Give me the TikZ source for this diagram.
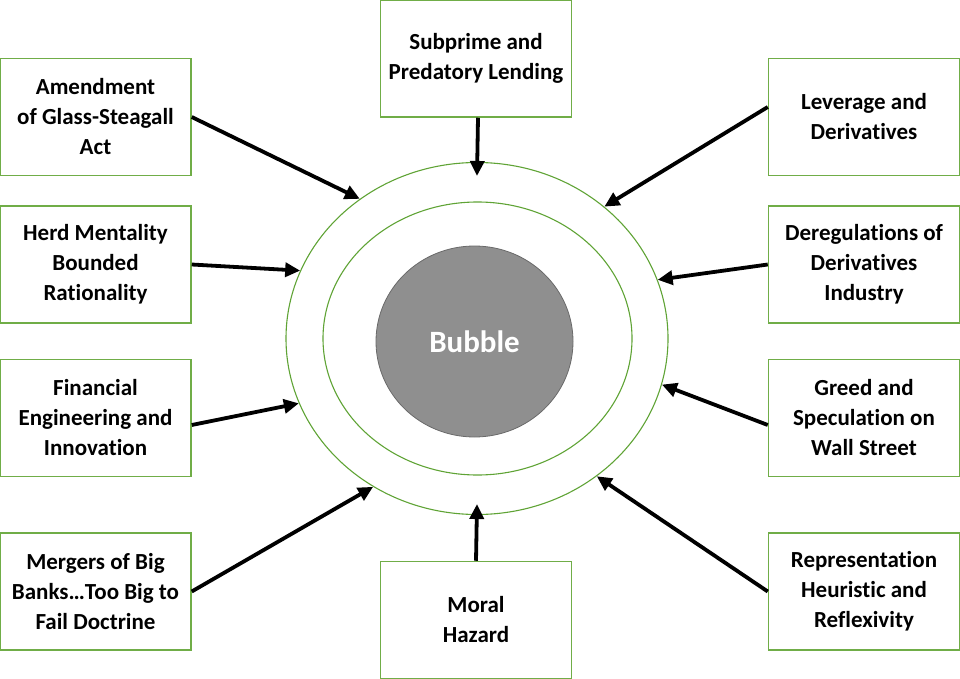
\documentclass[tikz,border=0pt]{standalone}
\usepackage{fontspec}
\setmainfont[Ligatures=NoCommon]{Carlito}
\usetikzlibrary{shapes.geometric,arrows.meta}
\definecolor{boxgreen}{HTML}{70AD47}
\definecolor{ringgreen}{HTML}{5FA335}
\definecolor{bubblegrey}{HTML}{8F8F8F}
\definecolor{bubbleedge}{HTML}{6A6A6A}

\begin{document}
\begin{tikzpicture}[x=1pt,y=-1pt,
    cause/.style={draw=boxgreen, line width=1.5pt, minimum width=191pt, minimum height=117pt,
        inner sep=0pt, align=center, font=\fontsize{23}{30}\selectfont\bfseries},
    ring/.style={ellipse, draw=ringgreen, line width=1.1pt, inner sep=0pt},
    push/.style={-{Triangle[length=15pt,width=14pt]}, line width=3.8pt}]
    \useasboundingbox (0,0) rectangle (960,679);

    \node[ring, minimum width=382pt, minimum height=352pt] (outer) at (477,338.5) {};
    \node[ring, minimum width=309pt, minimum height=273pt] (inner) at (477.5,338.5) {};
    \node[ellipse, fill=bubblegrey, draw=bubbleedge, line width=0.8pt, inner sep=0pt,
        minimum width=197pt, minimum height=191pt, text=white,
        font=\fontsize{31}{36}\selectfont\bfseries] (bubble) at (474.5,341.5) {Bubble};

    \node[cause] (amend) at (95.5,117) {Amendment\\of Glass-Steagall\\Act};
    \node[cause] (herd) at (95.5,264.5) {Herd Mentality\\Bounded\\Rationality};
    \node[cause] (fin) at (95.5,418) {Financial\\Engineering and\\Innovation};
    \node[cause] (merge) at (95.5,591.5) {Mergers of Big\\Banks…Too Big to\\Fail Doctrine};
    \node[cause] (sub) at (476,58.5) {Subprime and\\Predatory Lending};
    \node[cause] (moral) at (476,620) {Moral\\Hazard};
    \node[cause] (lev) at (864,117) {Leverage and\\Derivatives};
    \node[cause] (dereg) at (864,264.5) {Deregulations of\\Derivatives\\Industry};
    \node[cause] (greed) at (864,418) {Greed and\\Speculation on\\Wall Street};
    \node[cause] (repr) at (864,591.5) {Representation\\Heuristic and\\Reflexivity};

    \draw[push] (amend.east) -- (outer.130.5);
    \draw[push] (herd.east) -- (outer.159.6);
    \draw[push] ([yshift=-7pt]fin.east) -- (outer.200.4);
    \draw[push] (merge.east) -- (outer.235.6);
    \draw[push] ([xshift=2pt]sub.south) -- ([yshift=-14pt]outer.north);
    \draw[push] (moral.north) -- ([yshift=11pt]outer.south);
    \draw[push] ([yshift=10pt]lev.west) -- (outer.46.9);
    \draw[push] (dereg.west) -- (outer.18.9);
    \draw[push] ([yshift=-7pt]greed.west) -- (outer.346.4);
    \draw[push] (repr.west) -- (outer.311.7);
\end{tikzpicture}
\end{document}
